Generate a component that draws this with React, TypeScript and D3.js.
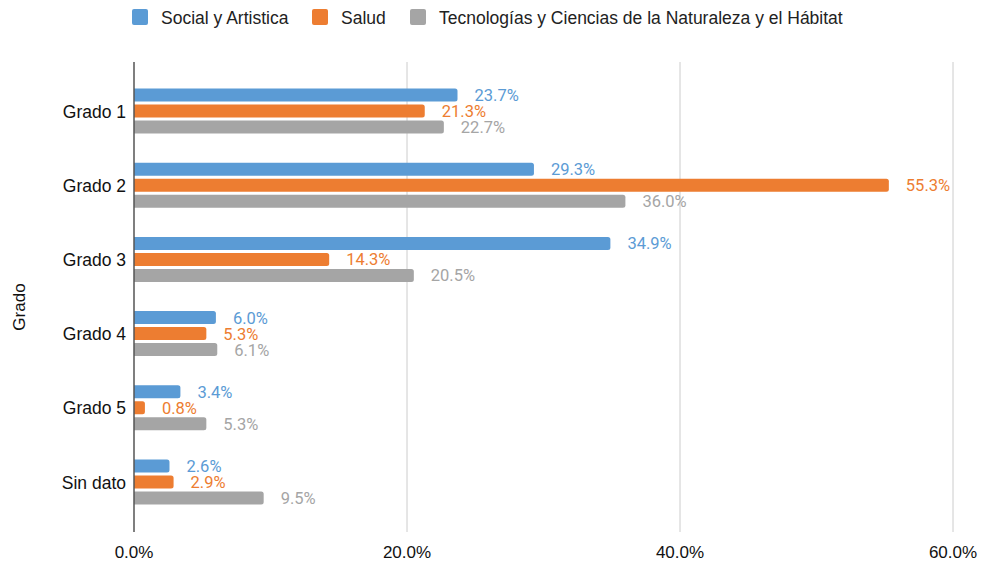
import React from "react";
import * as d3 from "d3";

const categories = ["Grado 1", "Grado 2", "Grado 3", "Grado 4", "Grado 5", "Sin dato"];
const seriesNames = ["Social y Artistica", "Salud", "Tecnologías y Ciencias de la Naturaleza y el Hábitat"];
const socialValues = [23.7, 29.3, 34.9, 6.0, 3.4, 2.6];
const saludValues = [21.3, 55.3, 14.3, 5.3, 0.8, 2.9];
const tecnoValues = [22.7, 36.0, 20.5, 6.1, 5.3, 9.5];
const xTicks = [0, 20, 40, 60];
const colors = ["#5b9bd5", "#ed7d31", "#a5a5a5"];
const labelColors = ["#5b9bd5", "#ed7d31", "#a5a5a5"];

export default function App() {
  const W = 982, H = 562;
  const x = d3.scaleLinear().domain([0, 60]).range([134, 953]);
  const y = d3.scalePoint<string>().domain(categories).range([111, 482]);
  const series = [socialValues, saludValues, tecnoValues];
  const barH = 13, step = 16;
  const plotTop = 62, plotBottom = 532;
  const labelFont = "Roboto, 'Liberation Sans', Arial, sans-serif";
  const textFont = "'Liberation Sans', Arial, sans-serif";
  const legendX = [132, 312, 410];
  return (
    <svg width={W} height={H} style={{ position: "absolute", left: 0, top: 0, background: "#fff" }}>
      <rect x={0} y={0} width={W} height={H} fill="#fff" />
      {seriesNames.map((n, i) => (
        <g key={n}>
          <rect x={legendX[i]} y={9} width={16} height={16} rx={2} fill={colors[i]} />
          <text x={legendX[i] + 29} y={23.5} fontSize={17.5} fontFamily={textFont} fill="#222">{n}</text>
        </g>
      ))}
      {xTicks.slice(1).map((t) => (
        <line key={t} x1={x(t)} x2={x(t)} y1={plotTop} y2={plotBottom} stroke="#cccccc" strokeWidth={1} />
      ))}
      {categories.map((c, ci) => (
        <g key={c}>
          {series.map((vals, si) => {
            const cy = (y(c) as number) + (si - 1) * step;
            const x0 = x(0), x1 = x(vals[ci]);
            const w = x1 - x0;
            const r = Math.min(2.5, w / 2);
            const top = cy - barH / 2;
            const d = `M${x0},${top} H${x1 - r} Q${x1},${top} ${x1},${top + r} V${top + barH - r} Q${x1},${top + barH} ${x1 - r},${top + barH} H${x0} Z`;
            return (
              <g key={si}>
                <path d={d} fill={colors[si]} />
                <text x={x1 + 17} y={cy + 6} fontSize={16.5} fontFamily={labelFont} fill={labelColors[si]}>
                  {vals[ci].toFixed(1) + "%"}
                </text>
              </g>
            );
          })}
          <text x={126} y={(y(c) as number) + 6.5} textAnchor="end" fontSize={17.5} fontFamily={textFont} fill="#111">{c}</text>
        </g>
      ))}
      <line x1={x(0)} x2={x(0)} y1={plotTop} y2={plotBottom} stroke="#555" strokeWidth={1.5} />
      {xTicks.map((t) => (
        <text key={t} x={x(t)} y={558} textAnchor="middle" fontSize={17} fontFamily={textFont} fill="#111">
          {t.toFixed(1) + "%"}
        </text>
      ))}
      <text transform="translate(25,307) rotate(-90)" textAnchor="middle" fontSize={17} fontFamily={textFont} fill="#111">Grado</text>
    </svg>
  );
}
